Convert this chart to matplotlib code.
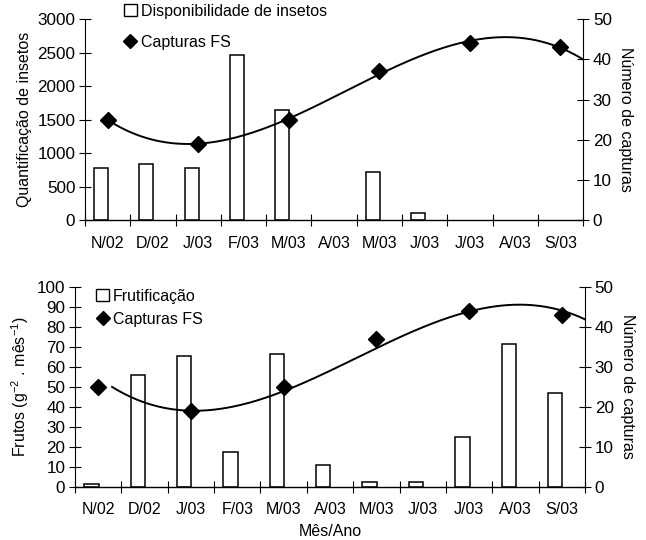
import numpy as np
import matplotlib
matplotlib.use("Agg")
import matplotlib.pyplot as plt
from matplotlib.patches import Rectangle
from matplotlib.lines import Line2D

plt.rcParams['font.family'] = ['Liberation Sans', 'DejaVu Sans']
plt.rcParams['mathtext.fontset'] = 'custom'
plt.rcParams['mathtext.rm'] = 'Liberation Sans'
plt.rcParams['mathtext.it'] = 'Liberation Sans'
plt.rcParams['axes.unicode_minus'] = False

# ---- data ----
months = ["N/02", "D/02", "J/03", "F/03", "M/03", "A/03", "M/03", "J/03", "J/03", "A/03", "S/03"]
insetos = [780, 840, 780, 2460, 1650, 0, 720, 110, 0, 0, 0]
frutos = [1.2, 56, 65.5, 17.5, 66.5, 10.8, 2.5, 2.3, 24.6, 71.4, 46.8]
capt_idx = [0, 2, 4, 6, 8, 10]
capturas = [25, 19, 25, 37, 44, 43]

FS = 11.5
YFS = 12.3
fig = plt.figure(figsize=(6.46, 5.40), dpi=100)

def make_panel(rect, bars, ymax, ystep, ylabel, legend_label, legend_anchor, lspace, shift, xlabel=None):
    ax = fig.add_axes(rect)
    x = np.arange(len(months))
    vals = np.array(bars, dtype=float)
    keep = vals > 0
    ax.bar(x[keep] - 0.145, vals[keep], width=0.31, facecolor='white', edgecolor='black',
           linewidth=1.1, zorder=2)
    ax.set_xlim(-0.5, len(months) - 0.5)
    ax.set_ylim(0, ymax)
    ax.set_yticks(np.arange(0, ymax + ystep / 2, ystep))
    ax.set_xticks(np.arange(-0.5, len(months)), minor=False)
    ax.set_xticklabels([])
    ax.set_xticks(x, minor=True)
    ax.set_xticklabels(months, minor=True, fontsize=FS)
    ax.tick_params(axis='x', which='major', direction='inout', length=8, width=0.8)
    ax.tick_params(axis='x', which='minor', length=0, pad=11)
    ax.tick_params(axis='y', direction='inout', length=8, width=0.8, labelsize=YFS, pad=3)
    for s in ['top', 'right']:
        ax.spines[s].set_visible(False)
    ax.spines['left'].set_linewidth(0.8)
    ax.spines['bottom'].set_linewidth(1.0)
    ax.set_ylabel(ylabel, fontsize=FS, labelpad=4)
    if xlabel:
        ax.set_xlabel(xlabel, fontsize=FS, labelpad=5)

    ax2 = ax.twinx()
    ax2.set_ylim(0, 50)
    ax2.set_yticks(np.arange(0, 51, 10))
    ax2.tick_params(axis='y', direction='inout', length=8, width=0.8, labelsize=YFS, pad=3)
    for s in ['top', 'left', 'bottom']:
        ax2.spines[s].set_visible(False)
    ax2.spines['right'].set_linewidth(0.8)
    ax2.set_ylabel("Número de capturas", fontsize=FS, rotation=270, labelpad=15)
    cx = np.array(capt_idx, dtype=float)
    cy = np.array(capturas, dtype=float)
    coef = np.polyfit(cx, cy, 3)
    xs = np.linspace(cx[0] + shift, len(months) - 0.5, 300)
    ax2.plot(xs, np.polyval(coef, xs - shift), color='black', lw=1.4, zorder=3)
    ax2.plot(cx, cy, ls='none', marker='D', ms=8, color='black', zorder=4)
    ax2.set_xlim(-0.5, len(months) - 0.5)

    handles = [Rectangle((0, 0), 1, 1, facecolor='white', edgecolor='black', linewidth=1.0),
               Line2D([], [], ls='none', marker='D', ms=7, color='black')]
    ax.legend(handles, [legend_label, "Capturas FS"], loc='upper left', bbox_to_anchor=legend_anchor,
              frameon=False, fontsize=FS, handlelength=0.8, handleheight=0.8, handletextpad=0.25,
              borderaxespad=0, borderpad=0, labelspacing=lspace)
    return ax, ax2

make_panel([0.1316, 0.5917, 0.771, 0.3731], insetos, 3000, 500, "Quantificação de insetos",
           "Disponibilidade de insetos", (0.078, 1.075), 1.0, 0.0)
make_panel([0.1161, 0.0987, 0.7895, 0.3704], frutos, 100, 10, "Frutos (g$^{-2}$ . mês$^{-1}$)",
           "Frutificação", (0.042, 0.99), 0.5, 0.3, xlabel="Mês/Ano")

fig.savefig("out.png", dpi=100)
